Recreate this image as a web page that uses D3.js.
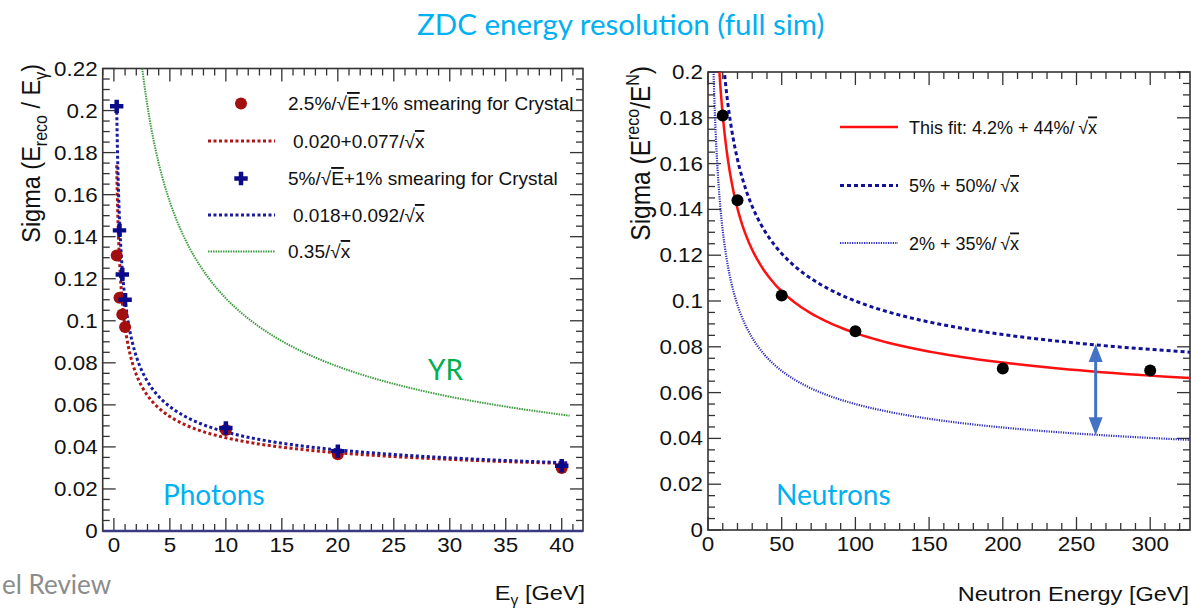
<!DOCTYPE html>
<html>
<head>
<meta charset="utf-8">
<script src="https://cdn.jsdelivr.net/npm/d3@7"></script>
<style>
  body { margin: 0; background: #fff; }
  svg { display: block; }
  text { font-family: "Liberation Sans", Arial, sans-serif; fill: #111; }
  .ppt { font-family: Lato, "Open Sans", sans-serif; }
</style>
</head>
<body>
<svg id="chart" width="1191" height="608"></svg>
<script>
// ---- photon panel data ----
const photonE = [0.25, 0.5, 0.75, 1, 10, 20, 40];
const photonSigmaCrystal25 = [0.131, 0.111, 0.103, 0.097, 0.048, 0.0365, 0.030];
const photonSigmaCrystal5 = [0.202, 0.143, 0.122, 0.110, 0.049, 0.038, 0.031];
// fit parameters as printed in the legend: const + stoch/sqrt(x)
const photonFitConst = [0.020, 0.018];
const photonFitStoch = [0.077, 0.092];
const photonFitRange = [0.25, 40.6];
const yrStoch = 0.35;
const yrRange = [2.4, 40.7];
const photonXTicks = [0, 5, 10, 15, 20, 25, 30, 35, 40];
const photonYTicks = [0, 0.02, 0.04, 0.06, 0.08, 0.1, 0.12, 0.14, 0.16, 0.18, 0.2, 0.22];

// ---- neutron panel data ----
const neutronE = [10, 20, 50, 100, 200, 300];
const neutronSigma = [0.181, 0.144, 0.1024, 0.0868, 0.0705, 0.0696];
const neutronFitConst = [0.042, 0.05, 0.02];
const neutronFitStoch = [0.44, 0.50, 0.35];
const neutronFitLabels = ["This fit: 4.2% + 44%/", "5% + 50%/", "2% + 35%/"];
const neutronXTicks = [0, 50, 100, 150, 200, 250, 300];
const neutronYTicks = [0, 0.02, 0.04, 0.06, 0.08, 0.1, 0.12, 0.14, 0.16, 0.18, 0.2];
const arrowE = 263;
const arrowSigma = [0.0414, 0.0812];

const svg = d3.select("#chart");
const SX = 1.12; // the ROOT picture is a bit stretched sideways on the slide
const fmt = d => d === 0 ? "0" : String(+d.toFixed(2));

// rich text helper: parts = [{t, dy, size, over}]
function rich(sel, parts) {
  parts.forEach(p => {
    const ts = sel.append("tspan").text(p.t);
    if (p.dy) ts.attr("dy", p.dy);
    if (p.size) ts.attr("font-size", p.size);
    if (p.over) ts.attr("text-decoration", "overline");
  });
  return sel;
}
const at = (x, y, extra = "") => `translate(${x},${y}) scale(${SX},1)${extra}`;

function panel(opt) {
  const { x, y, id } = opt;
  const [x0, x1] = x.range();
  const [y1, y0] = y.range();
  const g = svg.append("g");

  g.append("clipPath").attr("id", id).append("rect")
    .attr("x", x0).attr("y", y0).attr("width", x1 - x0).attr("height", y1 - y0);

  // inside ticks on all four sides
  const ticks = g.append("g").attr("stroke", "#333").attr("stroke-width", 1.3);
  const xMinor = d3.range(Math.ceil(x.domain()[0] / opt.xMinor) * opt.xMinor, x.domain()[1], opt.xMinor);
  const yMinor = d3.range(0, y.domain()[1] + 1e-9, opt.yMinor);
  xMinor.forEach(v => {
    const major = Math.abs(v / opt.xMajor - Math.round(v / opt.xMajor)) < 1e-6;
    const L = major ? 13 : 7;
    ticks.append("line").attr("x1", x(v)).attr("x2", x(v)).attr("y1", y1).attr("y2", y1 - L);
    ticks.append("line").attr("x1", x(v)).attr("x2", x(v)).attr("y1", y0).attr("y2", y0 + L);
  });
  yMinor.forEach(v => {
    const major = Math.abs(v / opt.yMajor - Math.round(v / opt.yMajor)) < 1e-6;
    const L = major ? 13 : 7;
    ticks.append("line").attr("y1", y(v)).attr("y2", y(v)).attr("x1", x0).attr("x2", x0 + L);
    ticks.append("line").attr("y1", y(v)).attr("y2", y(v)).attr("x1", x1).attr("x2", x1 - L);
  });

  g.append("rect").attr("x", x0).attr("y", y0).attr("width", x1 - x0).attr("height", y1 - y0)
    .attr("fill", "none").attr("stroke", "#333").attr("stroke-width", 1.6);

  // tick labels
  g.append("g").selectAll("text").data(opt.xTicks).join("text")
    .attr("transform", d => at(x(d), y1 + 21)).attr("text-anchor", "middle")
    .attr("font-size", 20).text(d => d);
  g.append("g").selectAll("text").data(opt.yTicks).join("text")
    .attr("transform", d => at(x0 - 5, y(d) + 7)).attr("text-anchor", "end")
    .attr("font-size", 20).text(fmt);

  return g;
}

function curve(g, x, y, c, s, range, clip) {
  const xs = d3.range(0, 201).map(i => range[0] * Math.pow(range[1] / range[0], i / 200));
  return g.append("path")
    .attr("clip-path", `url(#${clip})`)
    .attr("fill", "none")
    .attr("d", d3.line().x(v => x(v)).y(v => y(c + s / Math.sqrt(v)))(xs));
}

// ================= Photons =================
const xP = d3.scaleLinear().domain([-1.0, 41.9]).range([102.7, 583]);
const yP = d3.scaleLinear().domain([0, 0.22]).range([531, 68.5]);
const gP = panel({ x: xP, y: yP, id: "clipP", xMajor: 5, xMinor: 1, yMajor: 0.02, yMinor: 0.005,
  xTicks: photonXTicks, yTicks: photonYTicks });
// bottom edge of this frame shows as a navy line
gP.append("line").attr("x1", xP.range()[0]).attr("x2", xP.range()[1]).attr("y1", 531).attr("y2", 531)
  .attr("stroke", "#3a3a84").attr("stroke-width", 2.4);

curve(gP, xP, yP, 0, yrStoch, yrRange, "clipP")
  .attr("stroke", "#3f9d3f").attr("stroke-width", 2).attr("stroke-dasharray", "1.5,1");
curve(gP, xP, yP, photonFitConst[0], photonFitStoch[0], photonFitRange, "clipP")
  .attr("stroke", "#b01818").attr("stroke-width", 3).attr("stroke-dasharray", "3,2.5");
curve(gP, xP, yP, photonFitConst[1], photonFitStoch[1], photonFitRange, "clipP")
  .attr("stroke", "#1a1aa0").attr("stroke-width", 3).attr("stroke-dasharray", "3,2.5");

gP.append("g").selectAll("circle").data(photonE).join("circle")
  .attr("cx", d => xP(d)).attr("cy", (d, i) => yP(photonSigmaCrystal25[i]))
  .attr("r", 6).attr("fill", "#a30f0f");
const cross = d3.symbol().type(d3.symbolCross).size(100);
gP.append("g").selectAll("path").data(photonE).join("path")
  .attr("transform", (d, i) => `translate(${xP(d)},${yP(photonSigmaCrystal5[i])})`)
  .attr("d", cross).attr("fill", "#0a0a8a");

// legend
const lgP = gP.append("g").attr("font-size", 19);
lgP.append("circle").attr("cx", 241).attr("cy", 103.5).attr("r", 6).attr("fill", "#a30f0f");
rich(lgP.append("text").attr("x", 288).attr("y", 110),
  [{ t: "2.5%/√" }, { t: "E", over: true }, { t: "+1% smearing for Crystal" }]);
lgP.append("line").attr("x1", 208).attr("x2", 275).attr("y1", 141).attr("y2", 141)
  .attr("stroke", "#b01818").attr("stroke-width", 3).attr("stroke-dasharray", "3,2.5");
rich(lgP.append("text").attr("x", 293).attr("y", 148),
  [{ t: "0.020+0.077/√" }, { t: "x", over: true }]);
lgP.append("path").attr("transform", "translate(241,178.5)").attr("d", cross).attr("fill", "#0a0a8a");
rich(lgP.append("text").attr("x", 288).attr("y", 185),
  [{ t: "5%/√" }, { t: "E", over: true }, { t: "+1% smearing for Crystal" }]);
lgP.append("line").attr("x1", 208).attr("x2", 275).attr("y1", 215).attr("y2", 215)
  .attr("stroke", "#1a1aa0").attr("stroke-width", 3).attr("stroke-dasharray", "3,2.5");
rich(lgP.append("text").attr("x", 293).attr("y", 222),
  [{ t: "0.018+0.092/√" }, { t: "x", over: true }]);
lgP.append("line").attr("x1", 208).attr("x2", 275).attr("y1", 251.5).attr("y2", 251.5)
  .attr("stroke", "#3f9d3f").attr("stroke-width", 2).attr("stroke-dasharray", "1.5,1");
rich(lgP.append("text").attr("x", 288).attr("y", 258),
  [{ t: "0.35/√" }, { t: "x", over: true }]);

// axis titles
rich(gP.append("text").attr("transform", at(40, 64, " rotate(-90)"))
  .attr("text-anchor", "end").attr("font-size", 23.5),
  [{ t: "Sigma (E" }, { t: "reco", dy: 6, size: 16 }, { t: " / E", dy: -6, size: 23.5 },
   { t: "γ", dy: 6, size: 16 }, { t: ")", dy: -6, size: 23.5 }]);
rich(gP.append("text").attr("transform", at(585, 600)).attr("text-anchor", "end").attr("font-size", 21),
  [{ t: "E" }, { t: "γ", dy: 5, size: 14 }, { t: " [GeV]", dy: -5, size: 21 }]);

// ================= Neutrons =================
const xN = d3.scaleLinear().domain([0, 327]).range([708, 1190]);
const yN = d3.scaleLinear().domain([0, 0.2]).range([530, 72]);
const gN = panel({ x: xN, y: yN, id: "clipN", xMajor: 50, xMinor: 10, yMajor: 0.02, yMinor: 0.005,
  xTicks: neutronXTicks, yTicks: neutronYTicks });

const nStyles = [
  { stroke: "#ff1010", width: 2.5, dash: null },
  { stroke: "#10109a", width: 3, dash: "4,3" },
  { stroke: "#2a2ab8", width: 2.2, dash: "1.2,1.2" }
];
[2, 1, 0].forEach(i => {
  const st = nStyles[i];
  curve(gN, xN, yN, neutronFitConst[i], neutronFitStoch[i], [1, 327], "clipN")
    .attr("stroke", st.stroke).attr("stroke-width", st.width).attr("stroke-dasharray", st.dash);
});

gN.append("g").selectAll("circle").data(neutronE).join("circle")
  .attr("cx", d => xN(d)).attr("cy", (d, i) => yN(neutronSigma[i]))
  .attr("r", 6).attr("fill", "#000");

const lgN = gN.append("g").attr("font-size", 18);
const legYs = [127, 185.5, 243];
neutronFitLabels.forEach((lab, i) => {
  const st = nStyles[i];
  lgN.append("line").attr("x1", 840).attr("x2", 898).attr("y1", legYs[i]).attr("y2", legYs[i])
    .attr("stroke", st.stroke).attr("stroke-width", st.width).attr("stroke-dasharray", st.dash);
  rich(lgN.append("text").attr("x", 909).attr("y", legYs[i] + 6.5),
    [{ t: lab + "\u2009√" }, { t: "x", over: true }]);
});

// double arrow annotation
const ax = xN(arrowE), ayB = yN(arrowSigma[0]), ayT = yN(arrowSigma[1]);
gN.append("line").attr("x1", ax).attr("x2", ax).attr("y1", ayT + 16).attr("y2", ayB - 16)
  .attr("stroke", "#4472c4").attr("stroke-width", 3);
gN.append("path").attr("fill", "#4472c4")
  .attr("d", `M${ax},${ayT} L${ax - 7},${ayT + 18} L${ax + 7},${ayT + 18} Z M${ax},${ayB} L${ax - 7},${ayB - 18} L${ax + 7},${ayB - 18} Z`);

rich(gN.append("text").attr("transform", at(650, 66, " rotate(-90)"))
  .attr("text-anchor", "end").attr("font-size", 24.5),
  [{ t: "Sigma (E" }, { t: "reco", dy: -10, size: 16 }, { t: "/E", dy: 10, size: 24.5 },
   { t: "N", dy: -10, size: 16 }, { t: ")", dy: 10, size: 24.5 }]);
gN.append("text").attr("transform", at(1189, 601)).attr("text-anchor", "end").attr("font-size", 21)
  .text("Neutron Energy [GeV]");

// ================= slide text =================
svg.append("text").attr("class", "ppt").attr("x", 417).attr("y", 35)
  .attr("font-size", 29.5).style("fill", "#00b0f0").text("ZDC energy resolution (full sim)");
svg.append("text").attr("class", "ppt").attr("x", 163).attr("y", 505)
  .attr("font-size", 28).style("fill", "#00b0f0").text("Photons");
svg.append("text").attr("class", "ppt").attr("x", 776).attr("y", 505)
  .attr("font-size", 28).style("fill", "#00b0f0").text("Neutrons");
svg.append("text").attr("class", "ppt").attr("x", 428).attr("y", 380)
  .attr("font-size", 28).style("fill", "#00b050").text("YR");
svg.append("text").attr("class", "ppt").attr("x", 2).attr("y", 594)
  .attr("font-size", 26).style("fill", "#8c8c8c").text("el Review");
</script>
</body>
</html>
